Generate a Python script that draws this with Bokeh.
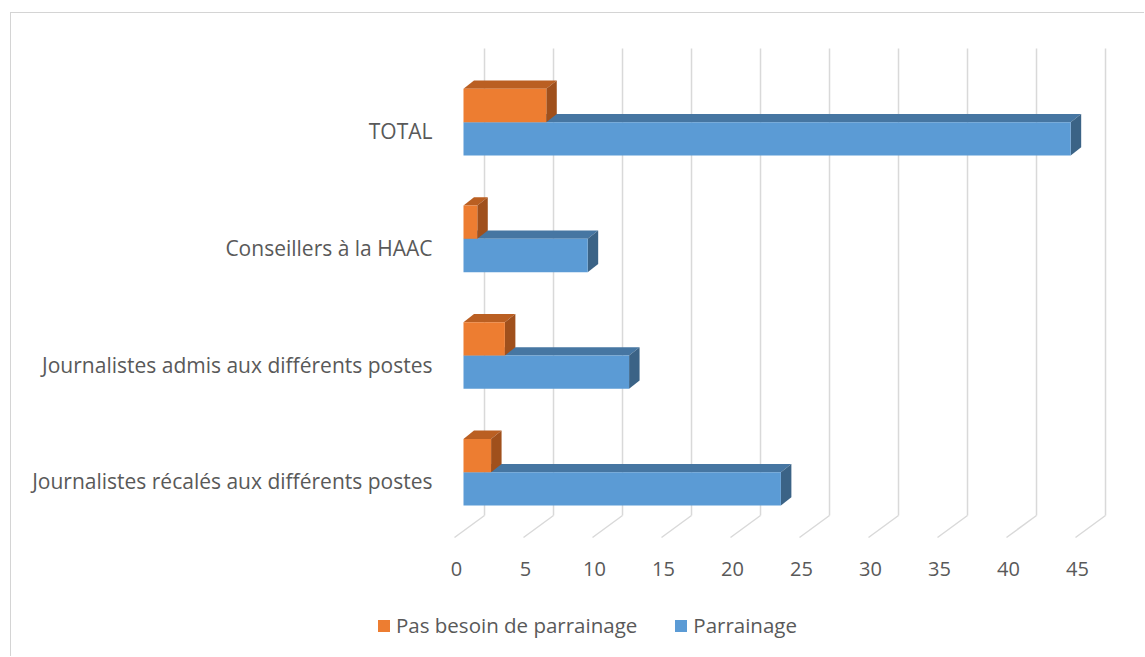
from bokeh.plotting import figure
from bokeh.models import FixedTicker, Legend, LegendItem
from bokeh.embed import file_html
from bokeh.resources import INLINE

# ---- data ----
categories = ["Journalistes récalés aux différents postes",
              "Journalistes admis aux différents postes",
              "Conseillers à la HAAC",
              "TOTAL"]
pas_besoin = [2, 3, 1, 6]        # Pas besoin de parrainage
parrainage = [23, 12, 9, 44]     # Parrainage
x_ticks = [0, 5, 10, 15, 20, 25, 30, 35, 40, 45]
series_names = ["Pas besoin de parrainage", "Parrainage"]

# ---- style / geometry constants (3D look) ----
FONT = "Open Sans"
TXT = "#595959"
GRID = "#d9d9d9"
ORANGE = ("#ED7D31", "#BA5F22", "#A0501C")   # front, top, side
BLUE = ("#5B9BD5", "#4676A2", "#3B6386")
BAR_X0 = 0.507     # bar front face offset from axis zero (depth)
BAR_OFF = 0.077    # bar pair boundary offset from the category label
BAR_H = 0.2857     # bar thickness in category units
DX, DY = 0.76, 0.071  # top / side face depth
GF_X, GF_Y = -0.145, -0.4826   # grid floor front point offsets
GB_X, GB_Y = 2.03, -0.294      # grid floor back point offsets
G_TOP = 3.709

p = figure(width=1134, height=644, output_backend="svg", toolbar_location=None,
           x_range=(-8.333, 48.116), y_range=(-1.451, 3.777),
           min_border_left=330, min_border_right=25, min_border_top=27, min_border_bottom=7)
p.styles = {"margin-left": "10px", "margin-top": "12px",
            "border-left": "1px solid #d4d4d4", "border-top": "1px solid #d4d4d4"}
p.outline_line_color = None
p.xgrid.visible = False
p.ygrid.visible = False

# ---- back-wall gridlines and floor ----
gx_front = [t + GF_X for t in x_ticks]
gx_back = [t + GB_X for t in x_ticks]
p.segment(x0=gx_front, y0=[GF_Y] * len(x_ticks), x1=gx_back, y1=[GB_Y] * len(x_ticks),
          line_color=GRID, line_width=1.5)
p.segment(x0=gx_back, y0=[GB_Y] * len(x_ticks), x1=gx_back, y1=[G_TOP] * len(x_ticks),
          line_color=GRID, line_width=1.5)

# ---- 3D bars ----
def faces(values, lower):
    fl, fr, fb, ft = [], [], [], []
    top_xs, top_ys, side_xs, side_ys = [], [], [], []
    for i, v in enumerate(values):
        b = i + BAR_OFF
        y0, y1 = (b - BAR_H, b) if lower else (b, b + BAR_H)
        x0, x1 = BAR_X0, BAR_X0 + v
        fl.append(x0); fr.append(x1); fb.append(y0); ft.append(y1)
        top_xs.append([x0, x1, x1 + DX, x0 + DX])
        top_ys.append([y1, y1, y1 + DY, y1 + DY])
        side_xs.append([x1, x1, x1 + DX, x1 + DX])
        side_ys.append([y0, y1, y1 + DY, y0 + DY])
    return (fl, fr, fb, ft), (top_xs, top_ys), (side_xs, side_ys)

renderers = []
for vals, lower, cols in [(parrainage, True, BLUE), (pas_besoin, False, ORANGE)]:
    (fl, fr, fb, ft), (tx, ty), (sx, sy) = faces(vals, lower)
    p.patches(xs=tx, ys=ty, fill_color=cols[1], line_color=None)
    p.patches(xs=sx, ys=sy, fill_color=cols[2], line_color=None)
    r = p.quad(left=fl, right=fr, bottom=fb, top=ft, fill_color=cols[0], line_color=None)
    renderers.append(r)
blue_r, orange_r = renderers

# ---- axes ----
p.xaxis.ticker = FixedTicker(ticks=x_ticks)
p.yaxis.ticker = FixedTicker(ticks=list(range(len(categories))))
p.yaxis.major_label_overrides = {i: c for i, c in enumerate(categories)}
for ax in (p.xaxis[0], p.yaxis[0]):
    ax.axis_line_color = None
    ax.major_tick_line_color = None
    ax.minor_tick_line_color = None
    ax.major_label_text_color = TXT
    ax.major_label_text_font = FONT
p.yaxis.major_label_text_font_size = "21px"
p.xaxis.major_label_text_font_size = "20px"
p.yaxis.major_label_standoff = -97
p.xaxis.major_label_standoff = -95

# ---- legend ----
legend = Legend(items=[LegendItem(label=series_names[0], renderers=[orange_r]),
                       LegendItem(label=series_names[1], renderers=[blue_r])],
                orientation="horizontal", location=(35, 11),
                glyph_width=15, glyph_height=15, label_standoff=5, spacing=36,
                padding=0, margin=0, border_line_color=None, background_fill_alpha=0,
                label_text_font=FONT, label_text_font_size="20.5px", label_text_color=TXT)
p.add_layout(legend, "center")

open("out.html", "w").write(file_html(p, INLINE))
